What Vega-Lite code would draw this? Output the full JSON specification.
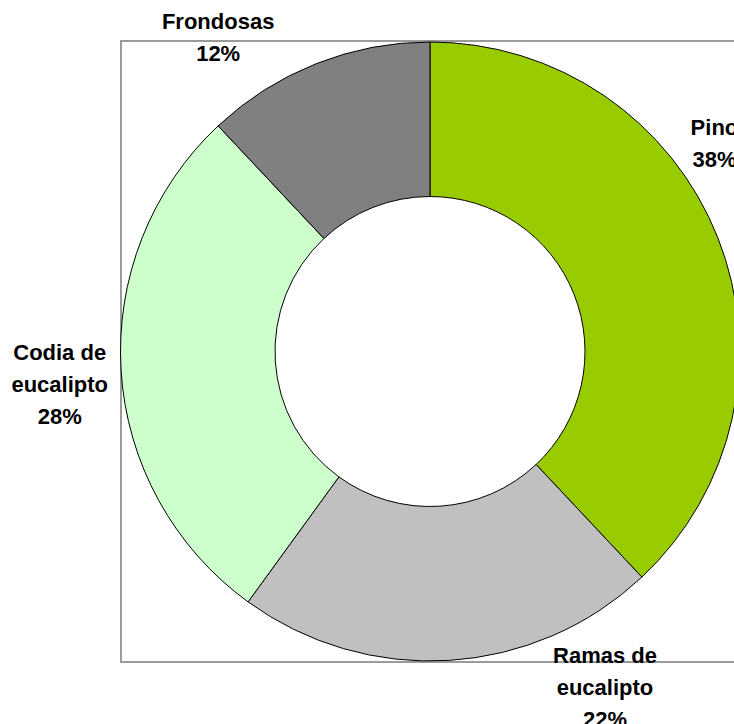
{
  "$schema": "https://vega.github.io/schema/vega-lite/v6.json",
  "width": 618,
  "height": 621,
  "autosize": {"type": "none"},
  "padding": {"left": 121, "top": 41, "right": 0, "bottom": 62},
  "background": "white",
  "view": {"stroke": "#9a9a9a", "strokeWidth": 2},
  "data": {"values": [
    {"idx": 1, "name": "Pino", "pct": 38},
    {"idx": 2, "name": "Ramas de\neucalipto", "pct": 22},
    {"idx": 3, "name": "Codia de\neucalipto", "pct": 28},
    {"idx": 4, "name": "Frondosas", "pct": 12}
  ]},
  "transform": [
    {"stack": "pct", "groupby": [], "sort": [{"field": "idx", "order": "ascending"}], "as": ["t0", "t1"]},
    {"calculate": "(datum.t0 + datum.t1) / 2", "as": "tmid"},
    {"calculate": "datum.name + '\\n' + datum.pct + '%'", "as": "label"}
  ],
  "layer": [
    {
      "mark": {"type": "arc", "outerRadius": 309.5, "innerRadius": 155, "stroke": "black", "strokeWidth": 1},
      "encoding": {
        "theta": {"field": "t0", "type": "quantitative", "scale": {"domain": [0, 100]}},
        "theta2": {"field": "t1"},
        "color": {"field": "name", "type": "nominal", "legend": null,
          "scale": {"domain": ["Pino", "Ramas de\neucalipto", "Codia de\neucalipto", "Frondosas"],
                    "range": ["#99cc00", "#c0c0c0", "#ccffcc", "#808080"]}}
      }
    },
    {
      "transform": [{"filter": "datum.idx == 1"}],
      "mark": {"type": "text", "radius": 350, "dx": -41, "dy": -95, "font": "Liberation Sans", "fontWeight": "bold", "fontSize": 22, "lineHeight": 32, "lineBreak": "\n", "align": "center", "baseline": "middle", "color": "black"},
      "encoding": {"theta": {"field": "tmid", "type": "quantitative"}, "text": {"field": "label"}}
    },
    {
      "transform": [{"filter": "datum.idx == 2"}],
      "mark": {"type": "text", "radius": 350, "dx": 153, "dy": -45, "font": "Liberation Sans", "fontWeight": "bold", "fontSize": 22, "lineHeight": 32, "lineBreak": "\n", "align": "center", "baseline": "middle", "color": "black"},
      "encoding": {"theta": {"field": "tmid", "type": "quantitative"}, "text": {"field": "label"}}
    },
    {
      "transform": [{"filter": "datum.idx == 3"}],
      "mark": {"type": "text", "radius": 350, "dx": -21, "dy": -20, "font": "Liberation Sans", "fontWeight": "bold", "fontSize": 22, "lineHeight": 32, "lineBreak": "\n", "align": "center", "baseline": "middle", "color": "black"},
      "encoding": {"theta": {"field": "tmid", "type": "quantitative"}, "text": {"field": "label"}}
    },
    {
      "transform": [{"filter": "datum.idx == 4"}],
      "mark": {"type": "text", "radius": 350, "dx": -83, "dy": -4, "font": "Liberation Sans", "fontWeight": "bold", "fontSize": 22, "lineHeight": 32, "lineBreak": "\n", "align": "center", "baseline": "middle", "color": "black"},
      "encoding": {"theta": {"field": "tmid", "type": "quantitative"}, "text": {"field": "label"}}
    }
  ]
}
